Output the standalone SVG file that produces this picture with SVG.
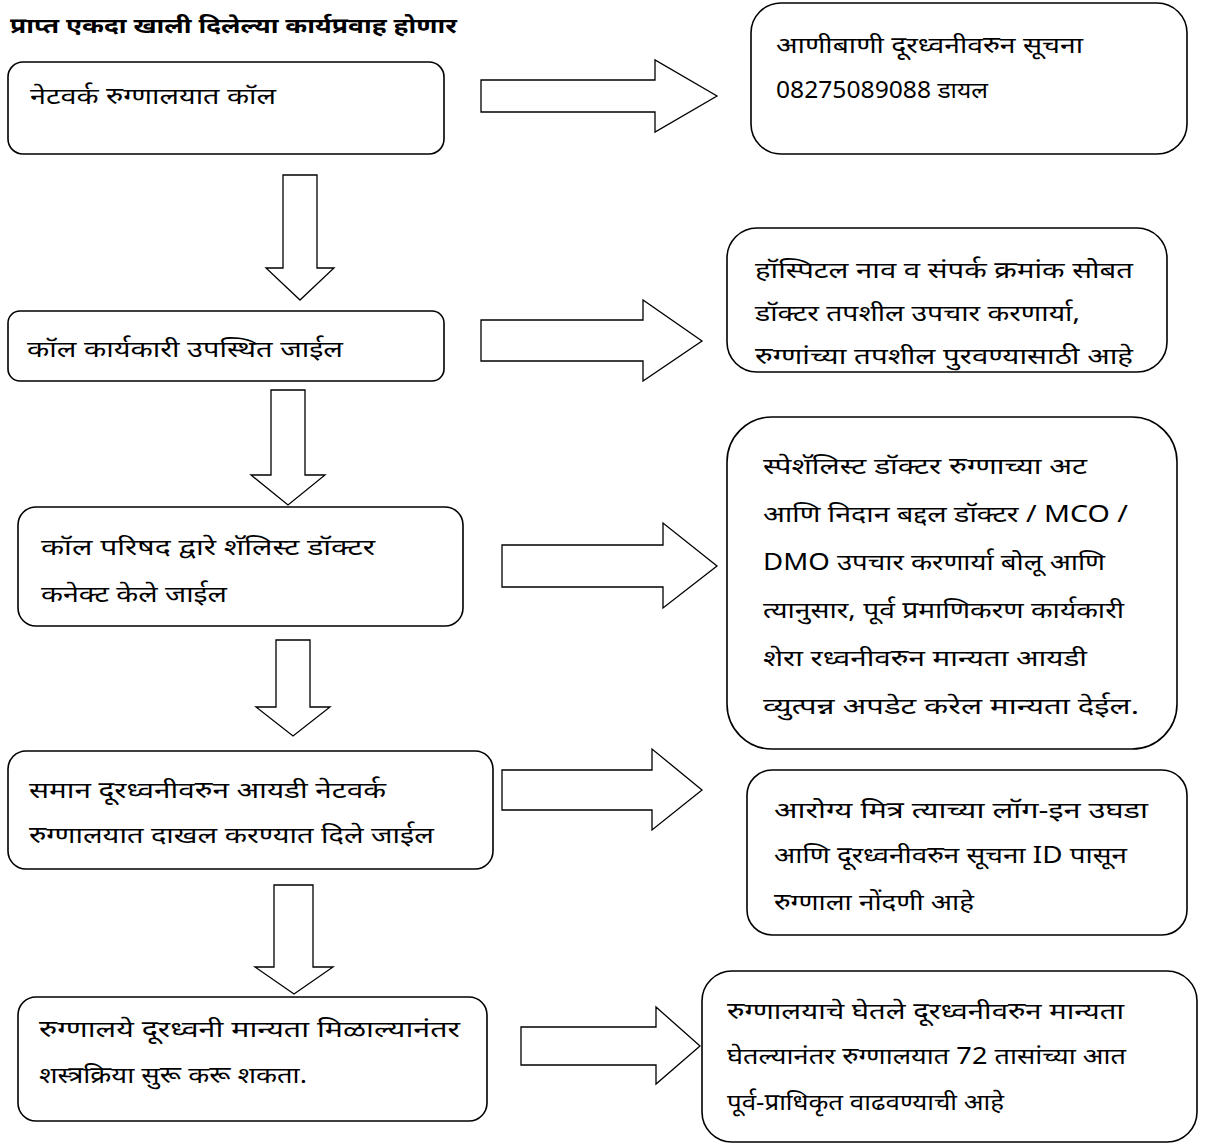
<svg xmlns="http://www.w3.org/2000/svg" width="1207" height="1146" viewBox="0 0 1207 1146">
<style>
.box{fill:#fff;stroke:#000;stroke-width:1.6}
.arr{fill:#fff;stroke:#000;stroke-width:1.3;stroke-linejoin:miter}
text{font-family:"Noto Sans","Liberation Sans",sans-serif;font-size:23px;fill:#000}
.title{font-weight:bold;font-size:21px}
</style>
<rect width="1207" height="1146" fill="#fff"/>
<text class="title" x="10" y="33" textLength="447" lengthAdjust="spacingAndGlyphs">प्राप्त एकदा खाली दिलेल्या कार्यप्रवाह होणार</text>
<g id="connectors">
<polygon class="arr" points="481,80 655,80 655,60 717,96 655,132 655,112 481,112"/>
<polygon class="arr" points="481,320 643,320 643,300 702,341 643,381 643,361 481,361"/>
<polygon class="arr" points="502,545 663,545 663,523 717,566 663,608 663,587 502,587"/>
<polygon class="arr" points="502,770 652,770 652,749 702,790 652,830 652,810 502,810"/>
<polygon class="arr" points="521,1027 656,1027 656,1007 700,1046 656,1084 656,1065 521,1065"/>
<polygon class="arr" points="283,175 317,175 317,268 334,268 300,300 266,268 283,268"/>
<polygon class="arr" points="271,390 305,390 305,475 325,475 288,505 251,475 271,475"/>
<polygon class="arr" points="276,640 310,640 310,707 330,707 293,736 256,707 276,707"/>
<polygon class="arr" points="274,885 313,885 313,967 333,967 294,994 255,967 274,967"/>
</g>
<g id="n1">
<rect class="box" x="8" y="62" width="436" height="92" rx="15"/>
<text x="30" y="104" textLength="246" lengthAdjust="spacingAndGlyphs">नेटवर्क रुग्णालयात कॉल</text>
</g>
<g id="n2">
<rect class="box" x="751" y="3" width="436" height="151" rx="30"/>
<text x="776" y="53" textLength="307" lengthAdjust="spacingAndGlyphs">आणीबाणी दूरध्वनीवरुन सूचना</text>
<text x="776" y="98" textLength="212" lengthAdjust="spacingAndGlyphs">08275089088 डायल</text>
</g>
<g id="n3">
<rect class="box" x="8" y="311" width="436" height="70" rx="12"/>
<text x="27" y="357" textLength="316" lengthAdjust="spacingAndGlyphs">कॉल कार्यकारी उपस्थित जाईल</text>
</g>
<g id="n4">
<rect class="box" x="727" y="228" width="440" height="144" rx="30"/>
<text x="755" y="278" textLength="378" lengthAdjust="spacingAndGlyphs">हॉस्पिटल नाव व संपर्क क्रमांक सोबत</text>
<text x="755" y="321" textLength="325" lengthAdjust="spacingAndGlyphs">डॉक्टर तपशील उपचार करणार्या,</text>
<text x="755" y="364" textLength="378" lengthAdjust="spacingAndGlyphs">रुग्णांच्या तपशील पुरवण्यासाठी आहे</text>
</g>
<g id="n5">
<rect class="box" x="18" y="507" width="445" height="119" rx="18"/>
<text x="41" y="555" textLength="334" lengthAdjust="spacingAndGlyphs">कॉल परिषद द्वारे शॅलिस्ट डॉक्टर</text>
<text x="41" y="602" textLength="186" lengthAdjust="spacingAndGlyphs">कनेक्ट केले जाईल</text>
</g>
<g id="n6">
<rect class="box" x="727" y="417" width="450" height="332" rx="45"/>
<text x="763" y="474" textLength="324" lengthAdjust="spacingAndGlyphs">स्पेशॅलिस्ट डॉक्टर रुग्णाच्या अट</text>
<text x="763" y="522" textLength="365" lengthAdjust="spacingAndGlyphs">आणि निदान बद्दल डॉक्टर / MCO /</text>
<text x="763" y="570" textLength="342" lengthAdjust="spacingAndGlyphs">DMO उपचार करणार्या बोलू आणि</text>
<text x="763" y="618" textLength="361" lengthAdjust="spacingAndGlyphs">त्यानुसार, पूर्व प्रमाणिकरण कार्यकारी</text>
<text x="763" y="666" textLength="324" lengthAdjust="spacingAndGlyphs">शेरा रध्वनीवरुन मान्यता आयडी</text>
<text x="763" y="714" textLength="376" lengthAdjust="spacingAndGlyphs">व्युत्पन्न अपडेट करेल मान्यता देईल.</text>
</g>
<g id="n7">
<rect class="box" x="8" y="751" width="485" height="118" rx="18"/>
<text x="29" y="798" textLength="357" lengthAdjust="spacingAndGlyphs">समान दूरध्वनीवरुन आयडी नेटवर्क</text>
<text x="29" y="843" textLength="405" lengthAdjust="spacingAndGlyphs">रुग्णालयात दाखल करण्यात दिले जाईल</text>
</g>
<g id="n8">
<rect class="box" x="747" y="770" width="440" height="165" rx="25"/>
<text x="774" y="818" textLength="374" lengthAdjust="spacingAndGlyphs">आरोग्य मित्र त्याच्या लॉग-इन उघडा</text>
<text x="774" y="863" textLength="353" lengthAdjust="spacingAndGlyphs">आणि दूरध्वनीवरुन सूचना ID पासून</text>
<text x="774" y="910" textLength="200" lengthAdjust="spacingAndGlyphs">रुग्णाला नोंदणी आहे</text>
</g>
<g id="n9">
<rect class="box" x="18" y="997" width="469" height="124" rx="18"/>
<text x="39" y="1037" textLength="421" lengthAdjust="spacingAndGlyphs">रुग्णालये दूरध्वनी मान्यता मिळाल्यानंतर</text>
<text x="39" y="1083" textLength="268" lengthAdjust="spacingAndGlyphs">शस्त्रक्रिया सुरू करू शकता.</text>
</g>
<g id="n10">
<rect class="box" x="702" y="971" width="495" height="171" rx="30"/>
<text x="727" y="1019" textLength="397" lengthAdjust="spacingAndGlyphs">रुग्णालयाचे घेतले दूरध्वनीवरुन मान्यता</text>
<text x="727" y="1064" textLength="399" lengthAdjust="spacingAndGlyphs">घेतल्यानंतर रुग्णालयात 72 तासांच्या आत</text>
<text x="727" y="1110" textLength="277" lengthAdjust="spacingAndGlyphs">पूर्व-प्राधिकृत वाढवण्याची आहे</text>
</g>
</svg>
